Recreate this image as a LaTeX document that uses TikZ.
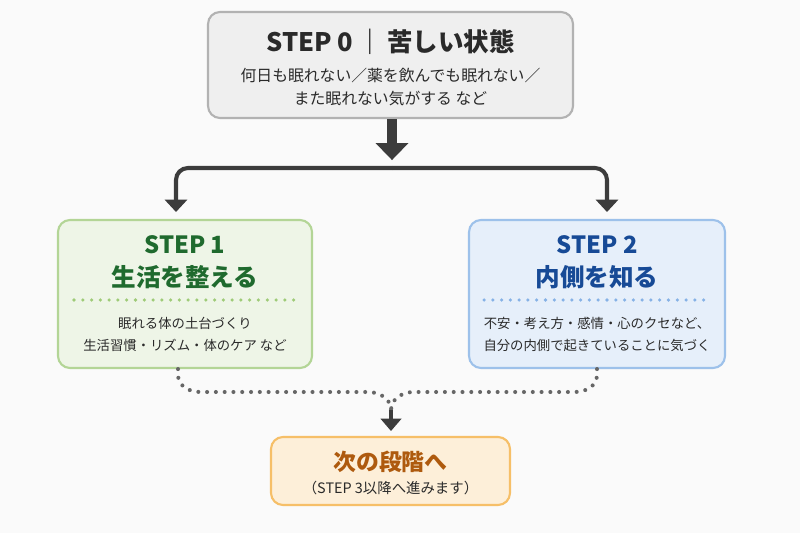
\documentclass[tikz,border=0pt]{standalone}
\usepackage{fontspec}
\setmainfont{Noto Sans CJK JP}
\usetikzlibrary{arrows.meta,calc}
\definecolor{bggray}{HTML}{FAFAFA}
\definecolor{inkgray}{HTML}{2A2A2A}
\definecolor{arrowgray}{HTML}{3C3C3C}
\definecolor{dotgray}{HTML}{666666}
\definecolor{zerofill}{HTML}{EFEFEF}
\definecolor{zeroline}{HTML}{B2B2B2}
\definecolor{onefill}{HTML}{EEF5E7}
\definecolor{oneline}{HTML}{B3D596}
\definecolor{onedots}{HTML}{9FCB78}
\definecolor{onetext}{HTML}{1F6A2E}
\definecolor{twofill}{HTML}{E6EFFA}
\definecolor{twoline}{HTML}{9DC1EA}
\definecolor{twodots}{HTML}{86B2E6}
\definecolor{twotext}{HTML}{174A96}
\definecolor{nextfill}{HTML}{FDEFD9}
\definecolor{nextline}{HTML}{F6BF68}
\definecolor{nexttext}{HTML}{AE5A0E}
\begin{document}
\begin{tikzpicture}[x=0.02cm,y=-0.02cm,
  box/.style={draw,rounded corners=6.8pt,line width=1.2pt,inner sep=0pt},
  headtxt/.style={font=\bfseries\fontsize{14.5}{17}\selectfont,text=inkgray,inner sep=0pt},
  titletxt/.style={font=\bfseries\fontsize{14}{18.7}\selectfont,align=center,inner sep=0pt},
  bodytxt/.style={font=\fontsize{9}{13.6}\selectfont,align=center,text=inkgray,inner sep=0pt},
  smalltxt/.style={font=\fontsize{7.6}{12.5}\selectfont,align=center,text=inkgray,inner sep=0pt},
  fatarrow/.style={draw=arrowgray,line width=5.7pt,-{Triangle[width=18pt,length=9.6pt]}},
  branch/.style={draw=arrowgray,line width=2.3pt,rounded corners=6.8pt,-{Triangle[width=12.5pt,length=7pt]}},
  midarrow/.style={draw=arrowgray,line width=2.3pt,-{Triangle[width=11.5pt,length=7pt]}},
  dots/.style={draw=dotgray,line width=2.3pt,line cap=round,dash pattern=on 0pt off 5pt},
  sepdots/.style={line width=2pt,line cap=round,dash pattern=on 0pt off 5pt}]

  \fill[bggray] (0,0) rectangle (800,533);
  \useasboundingbox (0,0) rectangle (800,533);

  \node[box,fill=zerofill,draw=zeroline,minimum width=7.3cm,minimum height=2.12cm] (s0) at (390.5,65) {};
  \node[headtxt] (s0t) at (390.5,42) {STEP 0\,｜\,苦しい状態};
  \node[bodytxt] (s0b) at (390.5,87) {何日も眠れない／薬を飲んでも眠れない／\\また眠れない気がする など};

  \node[box,fill=onefill,draw=oneline,minimum width=5.08cm,minimum height=2.96cm] (s1) at (185,294) {};
  \node[titletxt,text=onetext] (s1t) at (185,262) {{\fontsize{13.5}{18.7}\selectfont STEP 1}\\生活を整える};
  \draw[sepdots,draw=onedots] (74,300) -- (298,300);
  \node[smalltxt] (s1b) at (185,334) {眠れる体の土台づくり\\生活習慣・リズム・体のケア など};

  \node[box,fill=twofill,draw=twoline,minimum width=5.12cm,minimum height=2.96cm] (s2) at (597,294) {};
  \node[titletxt,text=twotext] (s2t) at (597,262) {{\fontsize{13.5}{18.7}\selectfont STEP 2}\\内側を知る};
  \draw[sepdots,draw=twodots] (484,300) -- (712,300);
  \node[smalltxt] (s2b) at (597,334) {不安・考え方・感情・心のクセなど、\\自分の内側で起きていることに気づく};

  \node[box,fill=nextfill,draw=nextline,minimum width=4.78cm,minimum height=1.36cm] (nx) at (390.5,471) {};
  \node[headtxt,text=nexttext,font=\bfseries\fontsize{13}{15}\selectfont] (nxt) at (390.5,462) {次の段階へ};
  \node[smalltxt,font=\fontsize{8.2}{12.5}\selectfont] (nxb) at (390.5,488) {（STEP 3以降へ進みます）};

  \coordinate (split) at (392,168);
  \coordinate (in1) at (176,212);
  \coordinate (in2) at (607,212);
  \coordinate (join) at (391,410);

  \draw[fatarrow,shorten >=4.5pt] (s0.south -| split) -- (split);
  \draw[branch] (split) -| (in1);
  \draw[branch] (split) -| (in2);

  \draw[dots] ($(s1.south)+(-7,0)$) -- ++(0,6) to[out=-90,in=180] (200,392) -- (368,392) to[out=0,in=90] (join);
  \draw[dots] (s2.south) -- ++(0,6) to[out=-90,in=0] (575,392) -- (414,392) to[out=180,in=90] (join);
  \draw[midarrow,shorten >=2.8pt] (join) -- (nx.north -| join);
\end{tikzpicture}
\end{document}
